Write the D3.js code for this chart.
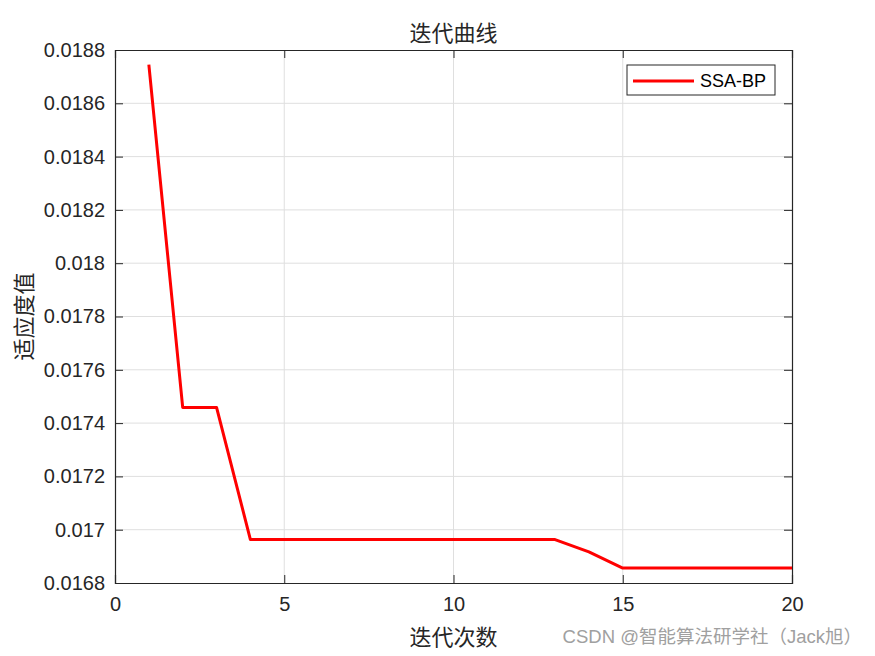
<!DOCTYPE html>
<html>
<head>
<meta charset="utf-8">
<script src="https://cdn.jsdelivr.net/npm/d3@7"></script>
<style>
  body { margin: 0; background: #fff; }
  svg { display: block; }
  .tick text { font-family: "Liberation Sans", Arial, sans-serif; font-size: 20px; fill: #262626; }
  .cjk { font-family: "Noto Sans CJK SC", sans-serif; fill: #262626; }
</style>
</head>
<body>
<div id="chart"></div>
<script>
// iteration numbers and fitness values
var iterations = [1, 2, 3, 4, 5, 6, 7, 8, 9, 10, 11, 12, 13, 14, 15, 16, 17, 18, 19, 20];
var fitness = [0.018745, 0.017459, 0.017459, 0.016963, 0.016963, 0.016963, 0.016963,
  0.016963, 0.016963, 0.016963, 0.016963, 0.016963, 0.016963, 0.016917,
  0.016856, 0.016856, 0.016856, 0.016856, 0.016856, 0.016856];
var xTicks = [0, 5, 10, 15, 20];
var yTicks = [0.0168, 0.0170, 0.0172, 0.0174, 0.0176, 0.0178, 0.0180, 0.0182, 0.0184, 0.0186, 0.0188];
var yTickLabels = ["0.0168", "0.017", "0.0172", "0.0174", "0.0176", "0.0178", "0.018", "0.0182", "0.0184", "0.0186", "0.0188"];
var seriesName = "SSA-BP";

var margin = { top: 50, right: 83, bottom: 73, left: 115 },
  W = 875, H = 656,
  width = W - margin.left - margin.right,
  height = H - margin.top - margin.bottom;

var svg = d3.select("#chart").append("svg")
  .attr("width", W)
  .attr("height", H);

var g = svg.append("g")
  .attr("transform", "translate(" + margin.left + "," + margin.top + ")");

var x = d3.scaleLinear().domain([0, 20]).range([0, width]);
var y = d3.scaleLinear().domain([0.0168, 0.0188]).range([height, 0]);

// grid
g.append("g").selectAll("line.gx")
  .data(xTicks.slice(1, -1))
  .enter().append("line")
  .attr("x1", function(d) { return x(d); })
  .attr("x2", function(d) { return x(d); })
  .attr("y1", 0).attr("y2", height)
  .attr("stroke", "#dfdfdf").attr("stroke-width", 1);

g.append("g").selectAll("line.gy")
  .data(yTicks.slice(1, -1))
  .enter().append("line")
  .attr("y1", function(d) { return y(d); })
  .attr("y2", function(d) { return y(d); })
  .attr("x1", 0).attr("x2", width)
  .attr("stroke", "#dfdfdf").attr("stroke-width", 1);

// axes, ticks pointing inwards
var xAxis = d3.axisBottom(x).tickValues(xTicks).tickSize(-8).tickPadding(14).tickFormat(d3.format("d"));
var yAxis = d3.axisLeft(y).tickValues(yTicks).tickSize(-8).tickPadding(10)
  .tickFormat(function(d, i) { return yTickLabels[i]; });

g.append("g").attr("transform", "translate(0," + height + ")").call(xAxis);
g.append("g").call(yAxis);
g.append("g").call(d3.axisTop(x).tickValues(xTicks).tickSize(-8).tickFormat(""));
g.append("g").attr("transform", "translate(" + width + ",0)")
  .call(d3.axisRight(y).tickValues(yTicks).tickSize(-8).tickFormat(""));

g.selectAll(".domain").attr("stroke", "#262626").attr("stroke-width", 1.2);
g.selectAll(".tick line").attr("stroke", "#262626");
g.selectAll(".tick text").attr("fill", "#262626");

// line
var line = d3.line()
  .x(function(d, i) { return x(iterations[i]); })
  .y(function(d) { return y(d); });

g.append("path")
  .datum(fitness)
  .attr("fill", "none")
  .attr("stroke", "#ff0000")
  .attr("stroke-width", 3)
  .attr("stroke-linejoin", "round")
  .attr("d", line);

// legend
var legend = g.append("g").attr("transform", "translate(" + (width - 165) + ",15)");
legend.append("rect")
  .attr("x", 0).attr("y", 0)
  .attr("width", 148).attr("height", 30)
  .attr("fill", "#fff").attr("stroke", "#262626").attr("stroke-width", 1);
legend.append("line")
  .attr("x1", 6).attr("x2", 67).attr("y1", 16).attr("y2", 16)
  .attr("stroke", "#ff0000").attr("stroke-width", 3);
legend.append("text")
  .attr("x", 73).attr("y", 16)
  .attr("dominant-baseline", "central")
  .style("font-family", "'Liberation Sans', Arial, sans-serif")
  .style("font-size", "18px")
  .attr("fill", "#000")
  .text(seriesName);

// titles
svg.append("text")
  .attr("class", "cjk")
  .attr("x", margin.left + width / 2).attr("y", 31)
  .attr("text-anchor", "middle")
  .attr("dominant-baseline", "central")
  .style("font-size", "22px")
  .text("迭代曲线");

svg.append("text")
  .attr("class", "cjk")
  .attr("x", margin.left + width / 2).attr("y", 635)
  .attr("text-anchor", "middle")
  .attr("dominant-baseline", "central")
  .style("font-size", "22px")
  .text("迭代次数");

svg.append("text")
  .attr("class", "cjk")
  .attr("transform", "translate(22," + (margin.top + height / 2) + ") rotate(-90)")
  .attr("text-anchor", "middle")
  .attr("dominant-baseline", "central")
  .style("font-size", "22px")
  .text("适应度值");

// watermark
svg.append("text")
  .attr("x", 862).attr("y", 636)
  .attr("text-anchor", "end")
  .attr("dominant-baseline", "central")
  .style("font-family", "'Liberation Sans', 'Noto Sans CJK SC', sans-serif")
  .style("font-size", "18.5px")
  .attr("fill", "#a0a0a0")
  .text("CSDN @智能算法研学社（Jack旭）");
</script>
</body>
</html>
